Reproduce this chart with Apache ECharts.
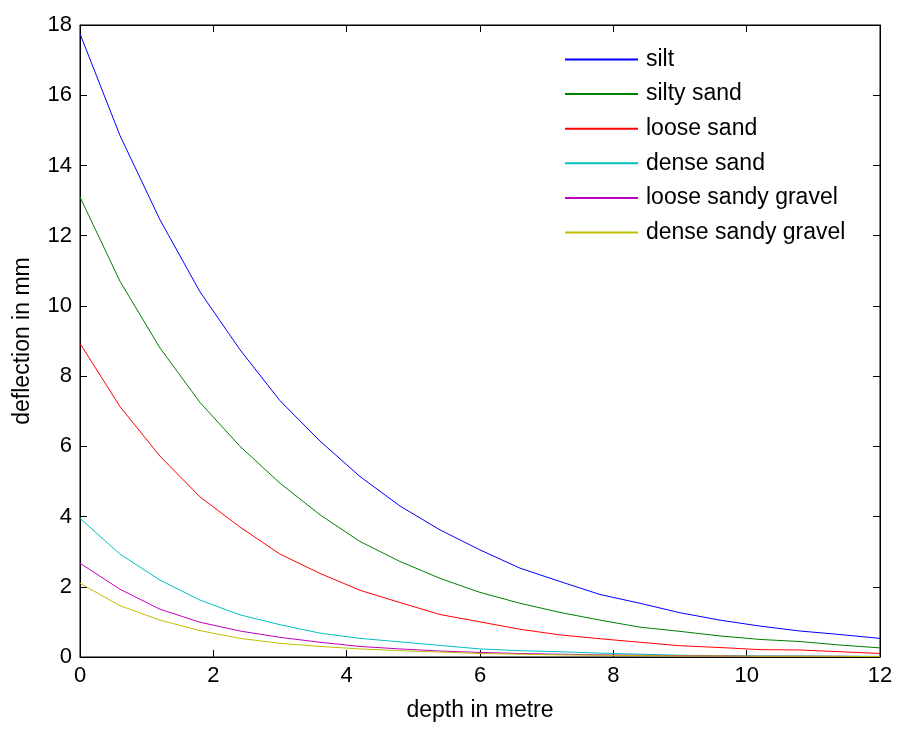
<!DOCTYPE html>
<html>
<head>
<meta charset="utf-8">
<script src="https://cdn.jsdelivr.net/npm/echarts@6/dist/echarts.min.js"></script>
<style>html,body{margin:0;padding:0;background:#fff}#c{width:899px;height:729px}</style>
</head>
<body>
<div id="c"></div>
<script>
var depth = [0,0.6,1.2,1.8,2.4,3.0,3.6,4.2,4.8,5.4,6.0,6.6,7.2,7.8,8.4,9.0,9.6,10.2,10.8,11.4,12.0];
var silt = [17.75,14.85,12.45,10.4,8.75,7.3,6.15,5.14,4.3,3.62,3.05,2.53,2.15,1.78,1.53,1.26,1.05,0.88,0.74,0.64,0.53];
var siltySand = [13.1,10.7,8.8,7.25,6.0,4.95,4.05,3.29,2.72,2.24,1.84,1.53,1.27,1.05,0.85,0.73,0.6,0.5,0.44,0.34,0.26];
var looseSand = [8.93,7.13,5.72,4.56,3.7,2.93,2.38,1.9,1.55,1.21,1.0,0.79,0.63,0.52,0.42,0.32,0.27,0.21,0.2,0.15,0.1];
var denseSand = [3.95,2.93,2.19,1.62,1.2,0.92,0.68,0.53,0.43,0.33,0.23,0.18,0.15,0.11,0.08,0.05,0.04,0.03,0.03,0.02,0.02];
var looseSandyGravel = [2.67,1.93,1.36,0.99,0.74,0.56,0.42,0.3,0.23,0.17,0.13,0.1,0.08,0.06,0.05,0.04,0.03,0.02,0.02,0.02,0.01];
var denseSandyGravel = [2.1,1.46,1.05,0.75,0.53,0.39,0.3,0.23,0.18,0.14,0.1,0.08,0.06,0.05,0.04,0.03,0.03,0.02,0.02,0.02,0.01];
var names = ['silt','silty sand','loose sand','dense sand','loose sandy gravel','dense sandy gravel'];
var values = [silt, siltySand, looseSand, denseSand, looseSandyGravel, denseSandyGravel];
var colors = ['#0000ff','#008000','#ff0000','#00bfbf','#bf00bf','#bfbf00'];

var font = 'Liberation Sans, Arial, sans-serif';
var chart = echarts.init(document.getElementById('c'), null, {renderer:'canvas'});
function pairs(v){ return depth.map(function(d,i){ return [d, v[i]]; }); }
var axisLine = {show:true, onZero:false, lineStyle:{color:'#000', width:1}};
var tick = {show:true, inside:true, length:7, lineStyle:{color:'#000'}};
var series = names.map(function(n,i){
  return {name:n, type:'line', data:pairs(values[i]), showSymbol:false, symbol:'none',
    lineStyle:{color:colors[i], width:1}, itemStyle:{color:colors[i]}, xAxisIndex:0, yAxisIndex:0};
});
series.push({type:'line', data:[], xAxisIndex:1, yAxisIndex:1, silent:true, showSymbol:false});
chart.setOption({
  animation:false,
  backgroundColor:'#fff',
  grid:{left:80, right:19, top:25, bottom:72, containLabel:false, show:true, borderColor:'#000', borderWidth:1, backgroundColor:'transparent'},
  legend:{
    orient:'vertical', left:565, top:48, padding:0,
    itemWidth:73, itemHeight:2, itemGap:11.6, icon:'rect',
    textStyle:{fontFamily:font, fontSize:23, color:'#000', lineHeight:22, padding:[0,0,0,3]},
    data:names.map(function(n,i){return {name:n, itemStyle:{color:colors[i]}};})
  },
  xAxis:[{
    type:'value', min:0, max:12, interval:2,
    name:'depth in metre', nameLocation:'middle', nameGap:42,
    nameTextStyle:{fontFamily:font, fontSize:23, color:'#000'},
    axisLine:axisLine, axisTick:tick, splitLine:{show:false},
    axisLabel:{fontFamily:font, fontSize:22, color:'#000', margin:8}
  },{
    type:'value', min:0, max:12, interval:2, position:'top',
    axisLine:axisLine, axisTick:tick, splitLine:{show:false}, axisLabel:{show:false}
  }],
  yAxis:[{
    type:'value', min:0, max:18, interval:2,
    name:'deflection in mm', nameLocation:'middle', nameGap:46,
    nameTextStyle:{fontFamily:font, fontSize:23, color:'#000'},
    axisLine:axisLine, axisTick:tick, splitLine:{show:false},
    axisLabel:{fontFamily:font, fontSize:22, color:'#000', margin:8}
  },{
    type:'value', min:0, max:18, interval:2, position:'right',
    axisLine:axisLine, axisTick:tick, splitLine:{show:false}, axisLabel:{show:false}
  }],
  series:series
});
</script>
</body>
</html>
